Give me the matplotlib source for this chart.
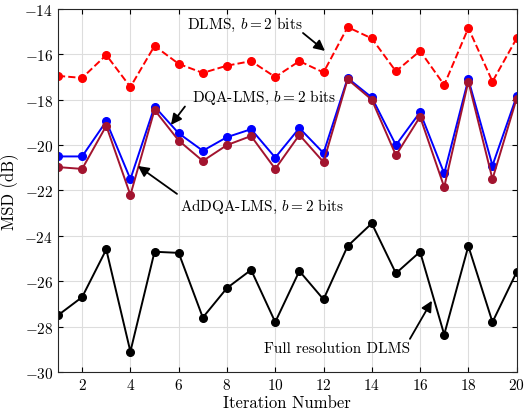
import numpy as np
import matplotlib
matplotlib.use("Agg")
import matplotlib.pyplot as plt

plt.rcParams['font.family'] = 'serif'
plt.rcParams['font.serif'] = ['cmr10']
plt.rcParams['mathtext.fontset'] = 'cm'
plt.rcParams['axes.unicode_minus'] = False
plt.rcParams['axes.formatter.use_mathtext'] = True

iterations = np.arange(1, 21)
dlms_2bit = [-16.95, -17.04, -16.03, -17.44, -15.63, -16.42, -16.82, -16.5, -16.3, -17.0,
             -16.3, -16.8, -14.8, -15.3, -16.75, -15.85, -17.35, -14.84, -17.2, -15.3]
dqa_lms = [-20.5, -20.5, -18.95, -21.5, -18.3, -19.48, -20.25, -19.65, -19.3, -20.55,
           -19.25, -20.35, -17.05, -17.9, -20.0, -18.55, -21.25, -17.1, -20.9, -17.85]
addqa_lms = [-20.97, -21.05, -19.15, -22.2, -18.45, -19.8, -20.7, -20.0, -19.6, -21.05,
             -19.55, -20.75, -17.1, -18.0, -20.45, -18.75, -21.85, -17.2, -21.5, -17.95]
full_dlms = [-27.5, -26.7, -24.6, -29.1, -24.7, -24.75, -27.6, -26.3, -25.5, -27.8,
             -25.55, -26.8, -24.45, -23.45, -25.65, -24.7, -28.35, -24.45, -27.8, -25.6]

fig = plt.figure(figsize=(5.29, 4.14), dpi=100)
ax = fig.add_axes([0.1096, 0.099, 0.867, 0.877])

ax.plot(iterations, dlms_2bit, '--o', color='#ff0000', lw=1.4, ms=5.5)
ax.plot(iterations, dqa_lms, '-o', color='#0000ff', lw=1.4, ms=5.5)
ax.plot(iterations, addqa_lms, '-o', color='#a2142f', lw=1.4, ms=5.5)
ax.plot(iterations, full_dlms, '-o', color='black', lw=1.4, ms=5.5)

ax.set_xlim(1, 20)
ax.set_ylim(-30, -14)
ax.set_xticks(np.arange(2, 21, 2))
ax.set_yticks(np.arange(-30, -13, 2))
ax.grid(True, color='#dddddd', lw=0.8)
ax.set_axisbelow(True)
for s in ax.spines.values():
    s.set_color('#262626')
ax.tick_params(direction='in', top=True, right=True, labelsize=11)
ax.set_xlabel('Iteration Number', fontsize=12, labelpad=2)
ax.set_ylabel('MSD (dB)', fontsize=12, labelpad=4)

# labels
ax.text(8.75, -14.66, 'DLMS, $b=2$ bits', ha='center', va='center', fontsize=11)
ax.text(9.53, -17.88, 'DQA-LMS, $b=2$ bits', ha='center', va='center', fontsize=11)
ax.text(9.45, -22.68, 'AdDQA-LMS, $b=2$ bits', ha='center', va='center', fontsize=11)
ax.text(12.56, -28.93, 'Full resolution DLMS', ha='center', va='center', fontsize=11)

# arrows
arrow = dict(arrowstyle='-|>', color='black', lw=1.3, mutation_scale=16,
             shrinkA=0, shrinkB=0)
ax.annotate('', xy=(12.06, -15.85), xytext=(11.15, -15.06), arrowprops=arrow)
ax.annotate('', xy=(5.68, -19.11), xytext=(6.26, -18.3), arrowprops=arrow)
ax.annotate('', xy=(4.31, -20.92), xytext=(5.93, -22.15), arrowprops=arrow)
ax.annotate('', xy=(16.49, -26.86), xytext=(15.58, -28.54), arrowprops=arrow)

fig.savefig('out.png', dpi=100)
